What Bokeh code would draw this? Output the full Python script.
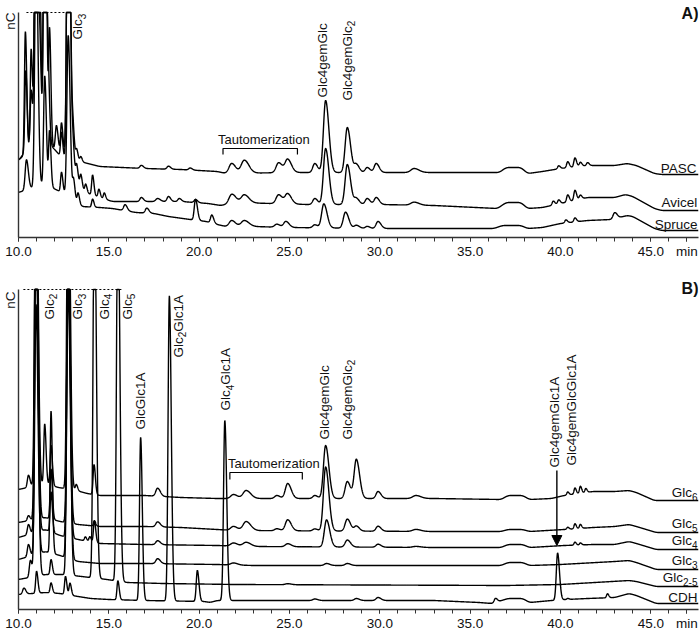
import numpy as np
from bokeh.plotting import figure
from bokeh.layouts import column
from bokeh.models import (Label, FixedTicker, PrintfTickFormatter, Arrow, NormalHead, Range1d,
                          Title)
from bokeh.embed import file_html
from bokeh.resources import INLINE

# ---------------- data (retention time in min, signal in nC, arbitrary offsets) -------------
T_START, T_END = 10.0, 47.64
X_TICKS = [10, 15, 20, 25, 30, 35, 40, 45, 47]
X_TICK_LABELS = {47: "min"}
X_MINOR = list(range(10, 48))

# Panel A -------------------------------------------------------------------
a_pasc_base = [(10.0, 77), (10.6, 88), (11.6, 92), (12.3, 85), (12.9, 82), (13.4, 76), (14.5, 71),
               (17.0, 69), (19.0, 68), (21.0, 66), (21.5, 64), (25.0, 65), (33.0, 65), (36.6, 65),
               (37.0, 70), (37.8, 70), (38.2, 64), (39.0, 66), (40.0, 69), (41.5, 72), (43.0, 72),
               (43.7, 74), (44.2, 72), (45.2, 64), (45.6, 63), (47.7, 63)]
a_pasc_peaks = [(10.38, 122, .05), (10.70, 100, .05), (10.97, 400, .07), (11.18, 150, .05),
                (11.45, 400, .06), (11.72, 115, .05), (12.10, 25, .06), (12.38, 30, .05),
                (12.75, 400, .07), (13.02, 26, .05), (13.22, 10, .05), (13.45, 5, .05),
                (16.80, 3, .08), (18.30, 3, .08), (19.50, 2, .08),
                (21.80, 10, .15), (22.50, 13, .17), (24.40, 10, .14), (24.90, 13, .14),
                (26.40, 9, .11), (27.00, 72, .12), (28.20, 45, .12), (28.70, 8, .11),
                (29.30, 5, .11), (29.80, 9, .11), (31.90, 4, .18),
                (39.90, 3, .06), (40.40, 6, .06), (40.80, 9, .06), (41.10, 4, .06), (41.50, 3, .06)]

a_avicel_base = [(10.0, 77), (10.6, 92), (11.6, 96), (12.3, 82), (12.9, 70), (13.3, 55), (13.7, 45),
                 (14.5, 40), (15.2, 36), (17.0, 36), (19.0, 36), (20.5, 34), (21.2, 32), (22.0, 35),
                 (24.0, 34), (26.0, 33), (30.0, 33), (33.0, 32), (36.5, 29), (37.0, 35), (37.8, 35),
                 (38.2, 29), (39.0, 30), (40.0, 34), (41.5, 40), (43.0, 40), (43.6, 43), (44.0, 41),
                 (45.2, 29), (45.6, 27), (47.7, 27)]
a_avicel_peaks = [(10.40, 80, .05), (10.70, 55, .05), (10.97, 400, .07), (11.20, 70, .05),
                  (11.45, 400, .06), (11.65, 60, .05), (12.38, 25, .05), (12.75, 400, .07),
                  (13.02, 25, .05), (13.22, 15, .05), (13.45, 12, .05), (13.72, 8, .05),
                  (14.10, 20, .05), (14.45, 8, .05), (14.75, 6, .05), (16.80, 4, .08), (17.70, 3, .1),
                  (18.30, 5, .08), (18.90, 3, .08), (19.80, 3, .08),
                  (21.80, 9, .15), (22.50, 8, .17), (24.40, 9, .14), (24.90, 10, .14),
                  (26.40, 6, .11), (27.00, 56, .12), (28.20, 40, .12), (28.70, 6, .11),
                  (29.30, 6, .11), (29.80, 7, .11), (31.90, 3, .18),
                  (39.60, 4, .06), (39.90, 4, .06), (40.40, 7, .06), (40.80, 10, .06), (41.10, 4, .06)]

a_spruce_base = [(10.0, 45), (10.8, 50), (11.6, 52), (12.3, 46), (13.0, 40), (13.5, 31), (14.5, 30),
                 (15.2, 29), (16.5, 25), (17.5, 24), (18.3, 21), (19.5, 18), (20.4, 16), (21.0, 13),
                 (21.5, 11), (23.0, 11), (25.0, 10), (30.0, 9), (36.3, 9), (36.8, 12), (37.8, 12),
                 (38.2, 9), (39.0, 10), (40.0, 14), (41.5, 17), (42.8, 18), (43.7, 22), (44.0, 21),
                 (45.2, 9), (45.6, 7), (47.7, 7)]
a_spruce_peaks = [(10.44, 30, .07), (10.97, 250, .07), (11.45, 110, .06), (11.72, 55, .05),
                  (12.38, 20, .05), (12.75, 160, .07), (13.05, 18, .05), (13.30, 10, .05),
                  (14.10, 8, .05), (15.90, 6, .08), (17.10, 5, .08), (19.80, 21, .07), (20.70, 8, .07),
                  (21.80, 6, .14), (22.50, 6, .17), (24.30, 3, .12), (24.80, 6, .12),
                  (26.40, 3, .11), (26.90, 24, .12), (28.10, 16, .12), (28.70, 3, .11),
                  (29.30, 2, .1), (29.90, 7, .11), (40.30, 3, .06), (40.80, 4, .06), (43.00, 6, .09)]

# Panel B -------------------------------------------------------------------
b_glc6_base = [(10.0, 120), (11.5, 126), (12.2, 122), (13.0, 120), (13.8, 116), (14.5, 114),
               (17.0, 114), (19.0, 112), (21.0, 111), (33.0, 111), (36.7, 110), (37.1, 114),
               (37.9, 114), (38.3, 110), (39.5, 111), (40.2, 114), (41.8, 118), (43.0, 118),
               (43.8, 119), (44.2, 117), (45.2, 109), (45.6, 109), (47.7, 109)]
b_glc6_peaks = [(10.55, 12, .06), (10.97, 400, .07), (11.45, 60, .05), (11.80, 40, .05),
                (12.75, 400, .07), (13.20, 6, .05), (14.18, 30, .05), (17.70, 8, .1),
                (21.90, 4, .15), (22.60, 8, .17), (24.30, 3, .12), (24.90, 15, .13), (26.40, 3, .11),
                (27.00, 53, .12), (28.20, 17, .12), (28.70, 39, .12), (29.90, 7, .11), (32.00, 3, .18),
                (40.40, 3, .05), (40.80, 6, .05), (41.10, 7, .05), (41.40, 4, .05)]

b_glc5_base = [(10.0, 87), (11.5, 92), (12.3, 88), (13.3, 85), (14.5, 83), (17.0, 83), (19.0, 82),
               (21.0, 80), (22.0, 79), (33.0, 78), (36.7, 78), (37.1, 80), (37.9, 80), (38.3, 78),
               (40.2, 80), (41.8, 82), (43.0, 83), (43.8, 85), (44.2, 83), (45.3, 77), (47.7, 77)]
b_glc5_peaks = [(10.55, 5, .06), (10.97, 400, .07), (11.80, 50, .05), (12.75, 300, .07),
                (14.20, 5, .05), (17.70, 5, .1), (21.90, 4, .15), (22.60, 9, .17), (24.30, 2, .12),
                (24.90, 11, .13), (26.40, 2, .11), (27.00, 64, .12), (28.20, 12, .12),
                (28.70, 5, .11), (29.90, 5, .11), (32.00, 2, .18),
                (40.40, 2, .05), (40.80, 5, .05), (41.10, 4, .05)]

b_glc4_base = [(10.0, 72), (11.5, 80), (12.3, 74), (13.3, 70), (14.5, 66), (17.0, 65), (21.0, 64),
               (23.0, 63), (33.0, 62), (36.7, 62), (37.1, 65), (37.9, 65), (38.3, 62), (40.2, 64),
               (41.8, 65), (43.0, 65), (43.8, 68), (44.2, 66), (45.3, 60), (47.7, 60)]
b_glc4_peaks = [(10.55, 10, .06), (10.97, 300, .07), (11.80, 40, .05), (12.75, 250, .07),
                (13.70, 4, .05), (13.95, 5, .05), (14.20, 22, .05), (17.70, 4, .1),
                (21.90, 3, .15), (22.60, 4, .17), (24.90, 3, .13), (27.05, 27, .12),
                (28.20, 7, .12), (29.90, 3, .11), (32.00, 1, .18), (40.80, 3, .05), (41.10, 2, .05)]

b_glc3_base = [(10.0, 50), (11.5, 58), (12.3, 54), (13.3, 48), (14.5, 46), (17.0, 46), (21.0, 45),
               (23.0, 44), (36.7, 44), (37.1, 47), (37.9, 47), (38.3, 44), (40.0, 45), (43.0, 48),
               (43.8, 49), (44.2, 47), (45.3, 40), (47.7, 40)]
b_glc3_peaks = [(10.55, 12, .06), (10.97, 250, .07), (11.80, 142, .05), (12.75, 400, .07),
                (17.70, 5, .1), (21.90, 2, .15), (27.05, 2, .12), (28.20, 2, .12)]

b_glc25_base = [(10.0, 30), (11.5, 35), (12.5, 35), (13.5, 33), (14.9, 30), (16.0, 27), (18.0, 26),
                (22.0, 25), (37.0, 24), (40.0, 25), (43.8, 29), (44.2, 28), (45.3, 23), (47.7, 23)]
b_glc25_peaks = [(10.66, 17, .06), (10.97, 400, .07), (11.80, 15, .05), (12.75, 400, .07),
                 (14.20, 400, .07), (15.50, 400, .07), (24.90, 1, .13)]

b_cdh_base = [(10.0, 15), (11.5, 17), (12.3, 16), (13.3, 13), (14.0, 11), (15.0, 10), (17.0, 9),
              (20.3, 8), (20.6, 7), (21.0, 9), (22.0, 9), (33.0, 9), (35.5, 7), (36.2, 6),
              (37.1, 11), (37.9, 11), (38.3, 7), (39.5, 9), (40.3, 10), (41.5, 11), (43.0, 12),
              (43.8, 16), (44.2, 14), (45.3, 6), (47.7, 6)]
b_cdh_peaks = [(10.30, 6, .07), (11.00, 22, .05), (11.80, 10, .05), (12.60, 18, .05),
               (12.85, 12, .05), (15.50, 19, .05), (16.76, 163, .06), (18.35, 305, .07),
               (19.90, 31, .06), (21.42, 180, .07), (26.40, 1.5, .11), (28.70, 2, .11),
               (29.90, 3, .11), (36.40, 4, .07), (39.84, 47, .07), (40.40, 1, .05), (42.60, 4, .05)]

FONT = "Liberation Sans"
FS = 13.5          # main text size, px
FS_SUB = 10.0      # subscript size, px
FW = 680           # frame width, px
PX = FW / (T_END - T_START)   # px per minute
A_CLIP, B_CLIP = 225, 320
T = np.arange(T_START, T_END + 0.005, 0.01)

# Arial / Liberation Sans advance widths (em)
ADV = {"G": .778, "l": .222, "c": .5, "e": .556, "m": .833, "g": .556, "A": .667, "-": .333,
       "P": .667, "S": .667, "C": .722, "v": .5, "i": .222, "p": .556, "r": .333, "u": .556,
       "D": .722, "H": .722}
for d in "0123456789":
    ADV[d] = .556


def text_w(s, size):
    return sum(ADV.get(ch, .556) for ch in s) * size


def bshift(size):
    # measured offset of the rendered alphabetic baseline (px, along the text's "up")
    return 0.3 * size


def trace(base, peaks, clip):
    bt = [b[0] for b in base]
    bh = [b[1] for b in base]
    y = np.interp(T, bt, bh)
    k = 15
    pad = np.pad(y, k, mode="edge")
    y = np.convolve(pad, np.ones(2 * k + 1) / (2 * k + 1), mode="same")[k:-k]
    for pt, ph, pw in peaks:
        w = np.where(T < pt, pw, pw * 1.5)
        y = y + ph * np.exp(-0.5 * ((T - pt) / w) ** 2)
    return np.minimum(y, clip)


def make_fig(frame_h, y_top, clip, b_top, b_bottom, nc_offset):
    p = figure(frame_width=FW, frame_height=frame_h,
               x_range=Range1d(T_START, T_END), y_range=Range1d(0, y_top),
               output_backend="svg", toolbar_location=None,
               min_border_left=14, min_border_right=2,
               min_border_top=b_top, min_border_bottom=b_bottom)
    p.outline_line_color = None
    p.grid.visible = False
    xa = p.xaxis[0]
    xa.ticker = FixedTicker(ticks=X_TICKS, minor_ticks=X_MINOR)
    xa.formatter = PrintfTickFormatter(format="%.1f")
    xa.major_label_overrides = X_TICK_LABELS
    xa.major_tick_out = 4
    xa.major_tick_in = 0
    xa.minor_tick_out = 4
    xa.minor_tick_in = 0
    xa.axis_line_width = 1.4
    xa.axis_line_color = "#333333"
    xa.major_tick_line_color = "#333333"
    xa.minor_tick_line_color = "#333333"
    xa.major_label_text_font = FONT
    xa.major_label_text_font_size = f"{FS}px"
    xa.major_label_text_color = "#111111"
    xa.major_label_standoff = 2
    ya = p.yaxis[0]
    ya.ticker = FixedTicker(ticks=[])
    ya.bounds = (0, clip)
    ya.major_label_text_font_size = "0px"
    ya.major_tick_out = 0
    ya.minor_tick_out = 0
    ya.axis_line_width = 1.4
    ya.axis_line_color = "#333333"
    p.add_layout(Title(text="nC", align="right", offset=nc_offset, standoff=1,
                       text_font=FONT, text_font_size=f"{FS}px", text_font_style="normal",
                       text_color="#111111"), "left")
    return p


def txt(p, x, y, s, angle=0.0, align="left", size=FS, style="normal"):
    p.add_layout(Label(x=x, y=y, text=s, angle=angle, text_align=align,
                       text_baseline="alphabetic",
                       text_font=FONT, text_font_size=f"{size}px", text_font_style=style,
                       text_color="#111111"))


def htxt(p, x, h, s, align="left", size=FS, style="normal"):
    txt(p, x, h + bshift(size), s, align=align, size=size, style=style)


def vlabel(p, t, h, parts):
    """Vertical label reading upward; parts = list of (text, is_subscript)."""
    adv = 0.0
    for s, sub in parts:
        size = FS_SUB if sub else FS
        x = t + ((3.0 if sub else 0.0) - bshift(size)) / PX
        txt(p, x, h + adv, s, angle=np.pi / 2, size=size)
        adv += text_w(s, size)


def rlabel(p, h, parts):
    """Horizontal label right-aligned at the end of the run; parts as in vlabel."""
    total = sum(text_w(s, FS_SUB if sub else FS) for s, sub in parts)
    x = T_END - (total + 1) / PX
    for s, sub in parts:
        size = FS_SUB if sub else FS
        htxt(p, x, h - (3 if sub else 0), s, size=size)
        x += text_w(s, size) / PX


def bracket(p, t0, t1, h_top, h_end):
    p.line([t0, t0, t1, t1], [h_end, h_top, h_top, h_end], line_color="black", line_width=1.2)


# ---------------- Panel A ----------------
pA = make_fig(234, 234, A_CLIP, 3, 42, 9)
for base, peaks in [(a_pasc_base, a_pasc_peaks), (a_avicel_base, a_avicel_peaks),
                    (a_spruce_base, a_spruce_peaks)]:
    pA.line(T, trace(base, peaks, A_CLIP), line_color="black", line_width=1.4)
pA.segment(x0=[10.44], y0=[A_CLIP], x1=[12.9], y1=[A_CLIP], line_color="black",
           line_width=1, line_dash="2 2")
vlabel(pA, 13.49, 198, [("Glc", False), ("3", True)])
vlabel(pA, 27.03, 140, [("Glc4gemGlc", False)])
vlabel(pA, 28.41, 137, [("Glc4gemGlc", False), ("2", True)])
bracket(pA, 21.32, 25.44, 89, 83)
htxt(pA, 21.04, 94, "Tautomerization", size=13)
rlabel(pA, 65, [("PASC", False)])
rlabel(pA, 31, [("Avicel", False)])
rlabel(pA, 9, [("Spruce", False)])
htxt(pA, T_END, 219, "A)", align="right", size=16, style="bold")

# ---------------- Panel B ----------------
pB = make_fig(330, 330, B_CLIP, 0, 20, 12)
for base, peaks in [(b_glc6_base, b_glc6_peaks), (b_glc5_base, b_glc5_peaks),
                    (b_glc4_base, b_glc4_peaks), (b_glc3_base, b_glc3_peaks),
                    (b_glc25_base, b_glc25_peaks), (b_cdh_base, b_cdh_peaks)]:
    pB.line(T, trace(base, peaks, B_CLIP), line_color="black", line_width=1.4)
pB.segment(x0=[10.27], y0=[B_CLIP], x1=[15.8], y1=[B_CLIP], line_color="black",
           line_width=1, line_dash="2 2")
vlabel(pB, 11.92, 290, [("Glc", False), ("2", True)])
vlabel(pB, 13.49, 290, [("Glc", False), ("3", True)])
vlabel(pB, 14.97, 290, [("Glc", False), ("4", True)])
vlabel(pB, 16.24, 290, [("Glc", False), ("5", True)])
vlabel(pB, 16.98, 180, [("GlcGlc1A", False)])
vlabel(pB, 19.07, 252, [("Glc", False), ("2", True), ("Glc1A", False)])
vlabel(pB, 21.68, 199, [("Glc", False), ("4", True), ("Glc1A", False)])
vlabel(pB, 27.14, 170, [("Glc4gemGlc", False)])
vlabel(pB, 28.41, 170, [("Glc4gemGlc", False), ("2", True)])
vlabel(pB, 39.92, 142, [("Glc4gemGlc1A", False)])
vlabel(pB, 40.85, 144, [("Glc4gemGlcGlc1A", False)])
bracket(pB, 21.70, 25.71, 137, 130)
htxt(pB, 21.59, 142, "Tautomerization", size=13)
pB.add_layout(Arrow(end=NormalHead(size=10, fill_color="black", line_color="black"),
                    x_start=39.8, y_start=139, x_end=39.8, y_end=64,
                    line_color="black", line_width=1.4))
rlabel(pB, 113, [("Glc", False), ("6", True)])
rlabel(pB, 82, [("Glc", False), ("5", True)])
rlabel(pB, 65, [("Glc", False), ("4", True)])
rlabel(pB, 45, [("Glc", False), ("3", True)])
rlabel(pB, 28, [("Glc", False), ("2-5", True)])
rlabel(pB, 8, [("CDH", False)])
htxt(pB, T_END, 316, "B)", align="right", size=16, style="bold")

layout = column(pA, pB, spacing=0)
open("out.html", "w").write(file_html(layout, INLINE))
